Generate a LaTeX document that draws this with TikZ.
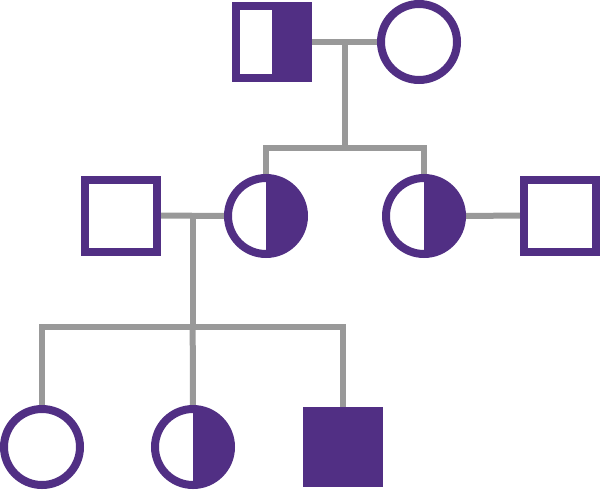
\documentclass[tikz,border=0pt]{standalone}
\usetikzlibrary{backgrounds}
\definecolor{ped}{HTML}{512F84}
\definecolor{lin}{HTML}{999999}
\begin{document}
\begin{tikzpicture}[x=1pt,y=-1pt,
  male/.style={draw=ped,line width=8pt,rectangle,minimum size=72pt,inner sep=0pt,fill=white},
  female/.style={draw=ped,line width=8pt,circle,minimum size=76pt,inner sep=0pt,fill=white},
  affected/.style={fill=ped},
  carrier/.style={path picture={\fill[ped] (path picture bounding box.north) rectangle (path picture bounding box.south east);}},
  conn/.style={draw=lin,line width=6pt,line join=miter}]
\useasboundingbox (0,0) rectangle (601,490);
% generation I
\node[male,carrier] (F1) at (272,42) {};
\node[female] (M1) at (419,42) {};
% generation II
\node[male] (H1) at (121,215.5) {};
\node[female,carrier] (D1) at (266,216) {};
\node[female,carrier] (D2) at (424,216) {};
\node[male] (H2) at (560,215.5) {};
% generation III
\node[female] (C1) at (42,447) {};
\node[female,carrier] (C2) at (193,447) {};
\node[male,affected] (C3) at (343,446.7) {};
\coordinate (j1) at (344.5,42);
\coordinate (s1) at (344.5,148);
\coordinate (j2) at (192.7,216);
\coordinate (s2) at (192.7,327);
\begin{scope}[on background layer]
\draw[conn] (F1) -- (M1);
\draw[conn] (j1) -- (s1);
\draw[conn] (D1) |- (s1) -| (D2);
\draw[conn] (H1) -- (D1);
\draw[conn] (D2) -- (H2);
\draw[conn] (j2) -- (s2);
\draw[conn] (C1) |- (s2) -| (C3);
\draw[conn] (s2) -- (C2);
\end{scope}
\end{tikzpicture}
\end{document}
